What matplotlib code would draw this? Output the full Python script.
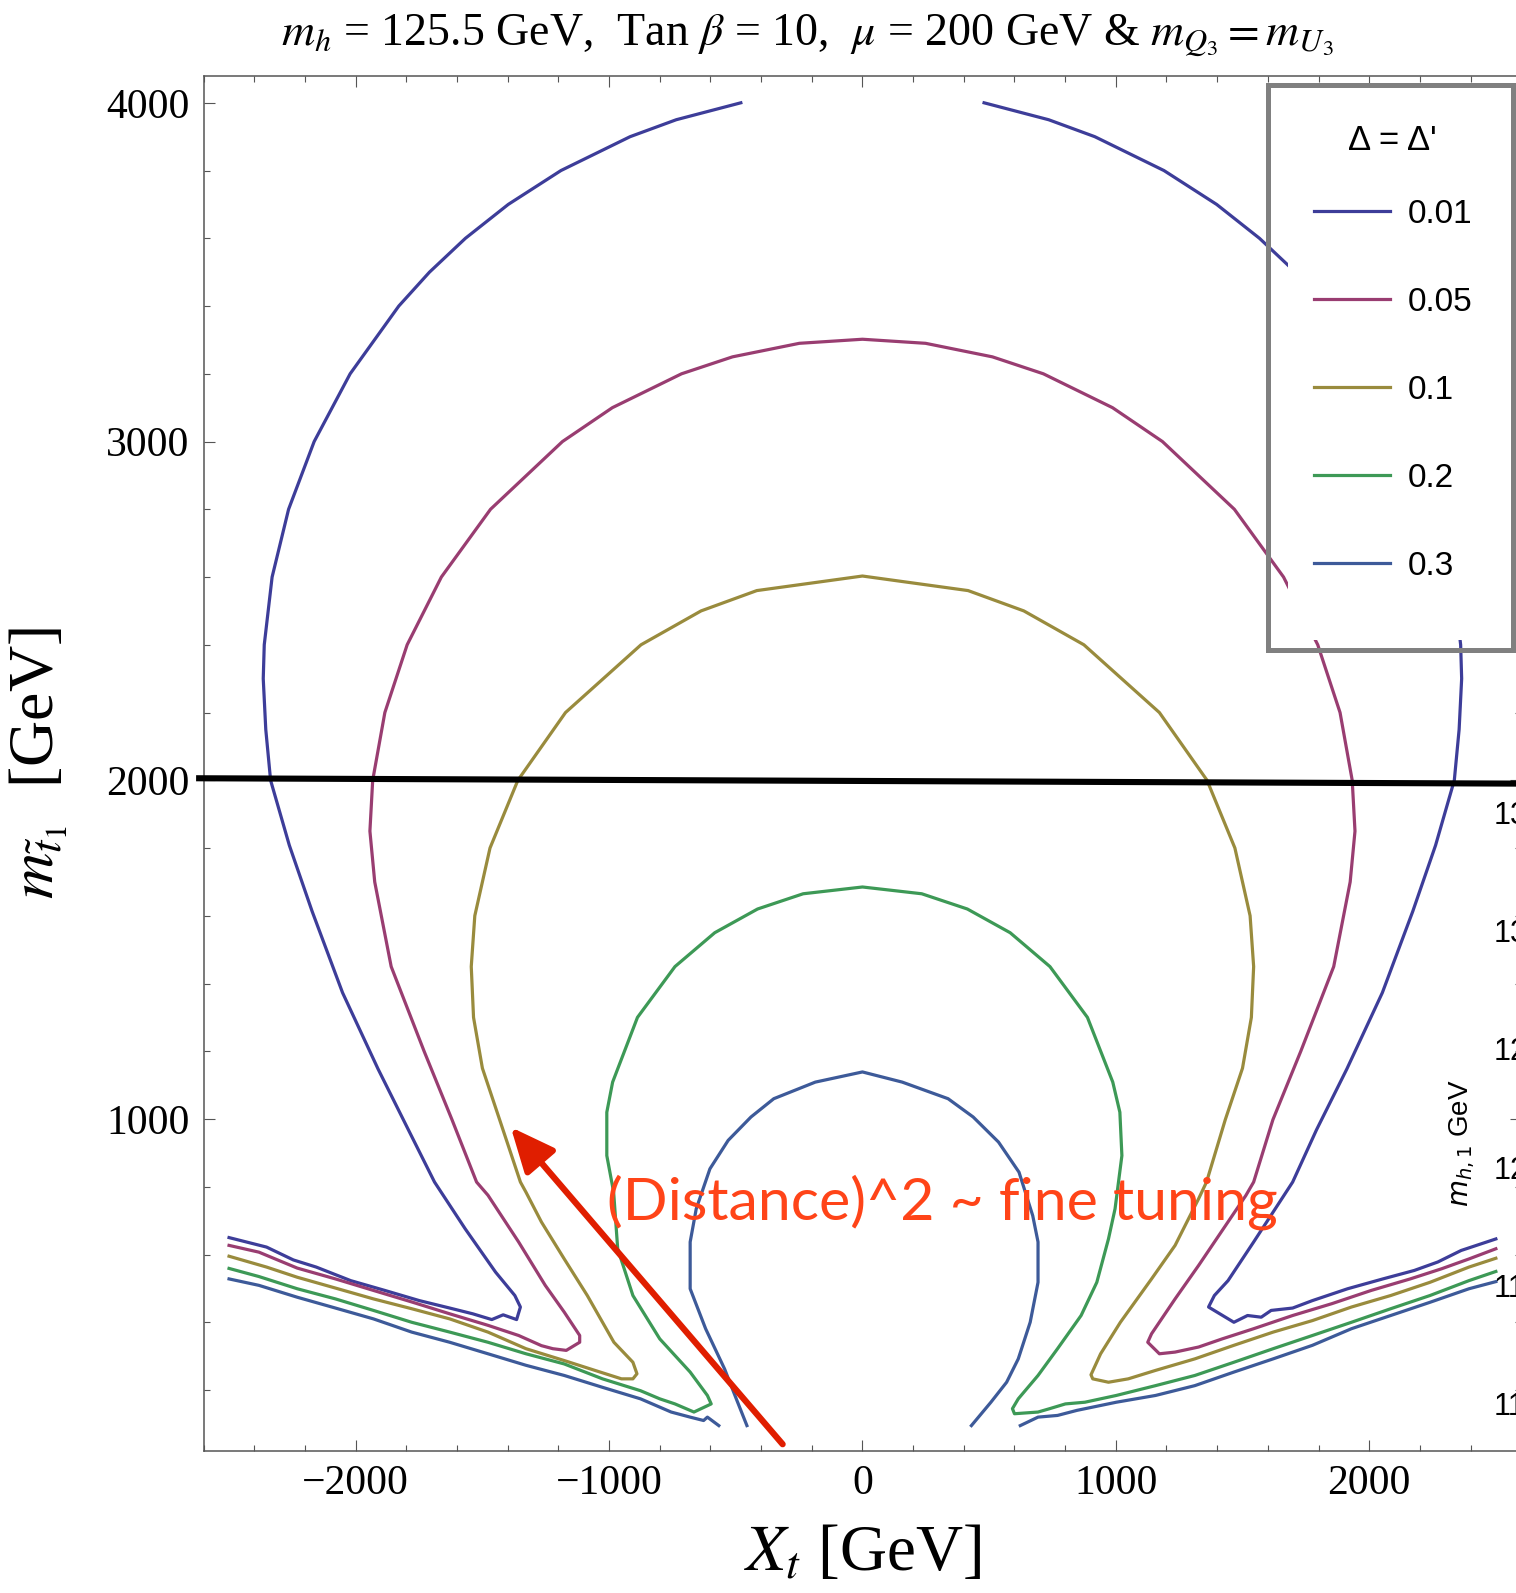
import matplotlib.pyplot as plt
from matplotlib.patches import Rectangle
from matplotlib.ticker import MultipleLocator

plt.rcParams['font.family'] = ['Liberation Serif', 'DejaVu Serif']
plt.rcParams['mathtext.fontset'] = 'stix'

# contour levels (Delta = Delta') and Mathematica default colours
levels = ['0.01', '0.05', '0.1', '0.2', '0.3']
colors = [(0.24, 0.24, 0.6), (0.6, 0.24, 0.443), (0.6, 0.547, 0.24),
          (0.24, 0.6, 0.337), (0.24, 0.353, 0.6)]

# traced contour lines, X_t [GeV] vs m_stop1 [GeV]
d001_left_x = [-2500, -2352, -2246, -2156, -2020, -1885, -1749, -1629, -1538, -1463, -1418, -1365, -1350,
               -1372, -1448, -1568, -1689, -1792, -1912, -2052, -2172, -2262, -2336, -2355, -2365, -2361,
               -2330, -2265, -2164, -2022, -1830, -1709, -1567, -1398, -1190, -917, -735, -480]
d001_left_y = [650, 622, 584, 563, 523, 494, 464, 442, 425, 408, 422, 408, 445,
               479, 548, 676, 814, 968, 1148, 1373, 1613, 1808, 2000, 2150, 2300, 2400,
               2600, 2800, 3000, 3200, 3400, 3500, 3600, 3700, 3800, 3900, 3950, 4000]
d001_right_x = [480, 735, 917, 1190, 1398, 1567, 1709, 1830, 2022, 2164, 2265, 2330, 2361, 2365, 2355,
                2336, 2262, 2172, 2052, 1912, 1792, 1698, 1544, 1443, 1389, 1366, 1466, 1520, 1574, 1613,
                1698, 1776, 1915, 2054, 2178, 2271, 2363, 2500]
d001_right_y = [4000, 3950, 3900, 3800, 3700, 3600, 3500, 3400, 3200, 3000, 2800, 2600, 2400, 2300, 2150,
                2000, 1808, 1613, 1373, 1148, 968, 814, 637, 523, 479, 445, 400, 420, 415, 435,
                442, 464, 499, 528, 553, 578, 612, 646]

d005_x = [-2500, -2382, -2231, -2080, -1930, -1779, -1629, -1478, -1357, -1267, -1222, -1169, -1116, -1116,
          -1177, -1252, -1357, -1478, -1523, -1620, -1730, -1860, -1925, -1944, -1933, -1885, -1797, -1662,
          -1468, -1184, -987, -714, -513, -249, 0, 249, 513, 714, 987, 1184, 1468, 1662, 1797, 1885, 1933,
          1944, 1925, 1860, 1730, 1620, 1544, 1513, 1420, 1327, 1234, 1141, 1126, 1172, 1234, 1327, 1420,
          1544, 1698, 1853, 2008, 2162, 2286, 2394, 2500]
d005_y = [627, 607, 560, 528, 494, 460, 425, 391, 361, 331, 322, 317, 341, 361,
          430, 509, 637, 775, 814, 998, 1200, 1450, 1700, 1850, 2000, 2200, 2400, 2600,
          2800, 3000, 3100, 3200, 3250, 3290, 3302, 3290, 3250, 3200, 3100, 3000, 2800, 2600, 2400, 2200, 2000,
          1850, 1700, 1450, 1200, 998, 814, 774, 671, 568, 469, 366, 341, 307, 312, 327, 351,
          381, 420, 455, 494, 528, 558, 587, 617]

d01_x = [-2500, -2352, -2231, -2080, -1930, -1779, -1629, -1478, -1328, -1177, -1056, -951, -906, -890,
         -906, -981, -1086, -1177, -1267, -1328, -1350, -1432, -1500, -1535, -1544, -1530, -1470, -1360,
         -1172, -874, -637, -417, 0, 417, 637, 874, 1172, 1360, 1470, 1530, 1544, 1535, 1500, 1432,
         1358, 1327, 1234, 1141, 1018, 940, 902, 909, 971, 1049, 1157, 1312, 1466, 1621, 1776, 1930,
         2085, 2240, 2394, 2500]
d01_y = [595, 563, 533, 501, 469, 440, 410, 371, 322, 287, 258, 233, 233, 248,
         282, 341, 479, 587, 696, 784, 814, 998, 1150, 1300, 1450, 1600, 1800, 2000,
         2200, 2400, 2500, 2560, 2603, 2560, 2500, 2400, 2200, 2000, 1800, 1600, 1450, 1300, 1150, 998,
         814, 765, 627, 528, 400, 307, 245, 233, 223, 233, 258, 292, 332, 371, 405, 445,
         479, 518, 563, 589]

d02_x = [-2500, -2382, -2231, -2080, -1930, -1779, -1629, -1478, -1328, -1177, -1026, -876, -800, -740,
         -665, -597, -612, -680, -800, -906, -966, -982, -1009, -1009, -986, -888, -740, -583, -414, -234,
         0, 234, 414, 583, 740, 888, 988, 1016, 1024, 997, 971, 925, 863, 770, 693, 615, 592, 600, 693,
         739, 801, 878, 1002, 1157, 1312, 1466, 1621, 1776, 1930, 2085, 2240, 2394, 2500]
d02_y = [559, 535, 499, 469, 435, 400, 371, 341, 307, 277, 233, 198, 174, 159,
         135, 159, 184, 253, 351, 479, 617, 784, 892, 1020, 1109, 1300, 1450, 1550, 1620, 1665,
         1685, 1665, 1620, 1550, 1450, 1300, 1109, 1020, 892, 735, 646, 518, 420, 322, 243, 174, 145, 130, 135,
         145, 159, 164, 184, 213, 243, 282, 322, 361, 400, 440, 479, 523, 550]

d03_left_x = [-2500, -2382, -2231, -2080, -1930, -1779, -1629, -1478, -1328, -1177, -1026, -876, -755,
              -680, -627, -612, -567]
d03_left_y = [528, 509, 474, 442, 410, 371, 341, 307, 273, 243, 208, 174, 135,
              120, 110, 120, 95]
d03_arch_x = [-456, -498, -544, -619, -680, -680, -656, -602, -530, -440, -350, -186, 0,
              157, 338, 437, 537, 618, 672, 693, 693, 662, 615, 569, 507, 430]
d03_arch_y = [95, 174, 262, 381, 499, 637, 735, 853, 937, 1006, 1060, 1109, 1139,
              1109, 1060, 1006, 932, 843, 715, 637, 518, 400, 292, 223, 164, 95]
d03_right_x = [623, 693, 770, 847, 1002, 1157, 1312, 1466, 1621, 1776, 1930, 2085, 2240, 2394, 2500]
d03_right_y = [95, 120, 125, 140, 164, 184, 213, 253, 292, 332, 381, 420, 459, 499, 520]

segments = [
    [(d001_left_x, d001_left_y), (d001_right_x, d001_right_y)],
    [(d005_x, d005_y)],
    [(d01_x, d01_y)],
    [(d02_x, d02_y)],
    [(d03_left_x, d03_left_y), (d03_arch_x, d03_arch_y), (d03_right_x, d03_right_y)],
]

# overlaid line at m_stop1 ~ 2 TeV and the arrow
cut_x = [-2630, 2650]
cut_y = [2006, 1990]
arrow_tail = (-315, 40)
arrow_tip = (-1388, 976)

# colour-bar labels of the plot underneath (cut off at the right edge)
cbar_labels = ['135', '130', '125', '120', '115', '110']

W, H = 1516, 1593
fig = plt.figure(figsize=(W / 100, H / 100), dpi=100)
ax = fig.add_axes([203.7 / W, 1 - 1451 / H, (1521.2 - 203.7) / W, (1451 - 75.7) / H])

handles = []
for lev, col, segs in zip(levels, colors, segments):
    for i, (xs, ys) in enumerate(segs):
        ln, = ax.plot(xs, ys, color=col, lw=2.3, zorder=2)
        if i == 0:
            ln.set_label(lev)
            handles.append(ln)

ax.plot(cut_x, cut_y, color='black', lw=4.4, clip_on=False, zorder=4, solid_capstyle='butt')

ax.annotate('', xy=arrow_tip, xytext=arrow_tail,
            arrowprops=dict(arrowstyle='-|>,head_length=0.9,head_width=0.4', color='#e01e00',
                            lw=4.5, mutation_scale=30, shrinkA=0, shrinkB=0), zorder=6)
ax.text(314, 754, '(Distance)^2 ~ fine tuning', color='#ff4418', fontsize=42.5,
        family=['Lato', 'DejaVu Sans'], ha='center', va='center', zorder=7)

ax.set_xlim(-2600, 2600)
ax.set_ylim(20, 4080)
ax.xaxis.set_major_locator(MultipleLocator(1000))
ax.xaxis.set_minor_locator(MultipleLocator(200))
ax.yaxis.set_major_locator(MultipleLocator(1000))
ax.yaxis.set_minor_locator(MultipleLocator(200))
ax.tick_params(which='both', direction='in', top=True, right=True, color='#555555',
               labelcolor='black', labelsize=30, pad=10)
ax.tick_params(which='major', length=8, width=0.8)
ax.tick_params(which='minor', length=4.5, width=0.8)
for sp in ax.spines.values():
    sp.set_color('#555555')
    sp.set_linewidth(1.1)

ax.set_xlabel(r'$X_t$ [GeV]', fontsize=47)
ax.xaxis.label.set_va('center')
ax.xaxis.set_label_coords(0.5, -0.0756)
ax.set_ylabel(r'$m_{\tilde{t}_1}$  [GeV]', fontsize=46)
ax.yaxis.label.set_va('center')
ax.yaxis.set_label_coords(-0.125, 0.5)

fig.text(807 / W, 1 - 35 / H,
         r'$m_h$ = 125.5 GeV,  Tan $\beta$ = 10,  $\mu$ = 200 GeV & $m_{Q_3} = m_{U_3}$',
         fontsize=33, ha='center', va='center')

# legend box pasted over the right corner
ax.add_patch(Rectangle((1288 / W, 1 - 640 / H), 240 / W, (640 - 83) / H, transform=fig.transFigure,
                       facecolor='white', edgecolor='none', zorder=2.2, clip_on=False))
ax.add_patch(Rectangle((1268 / W, 1 - 650 / H), (1513 - 1268) / W, (650 - 85) / H,
                       transform=fig.transFigure, fill=False, edgecolor='#808080', lw=3.6,
                       zorder=2.3, clip_on=False))
fig.text(1392 / W, 1 - 140 / H, "Δ = Δ'", fontsize=25, family='Liberation Sans',
         ha='center', va='center')
ax.legend(handles=handles, loc='upper left', bbox_to_anchor=(1314 / W, 1 - 199 / H),
          bbox_transform=fig.transFigure, frameon=False, prop={'family': 'Liberation Sans', 'size': 24},
          handlelength=2.28, handletextpad=0.54, labelspacing=1.71, borderpad=0, borderaxespad=0)

for i, lab in enumerate(cbar_labels):
    fig.text(1494 / W, 1 - (816 + i * 118.2) / H, lab, fontsize=22, family='Liberation Sans',
             ha='left', va='center')
fig.text(1462 / W, 1 - 1143 / H, r'$m_{h,1}$ GeV', rotation=90, fontsize=20, family='Liberation Sans',
         math_fontfamily='dejavusans', ha='center', va='center')

fig.savefig('out.png', dpi=100)
